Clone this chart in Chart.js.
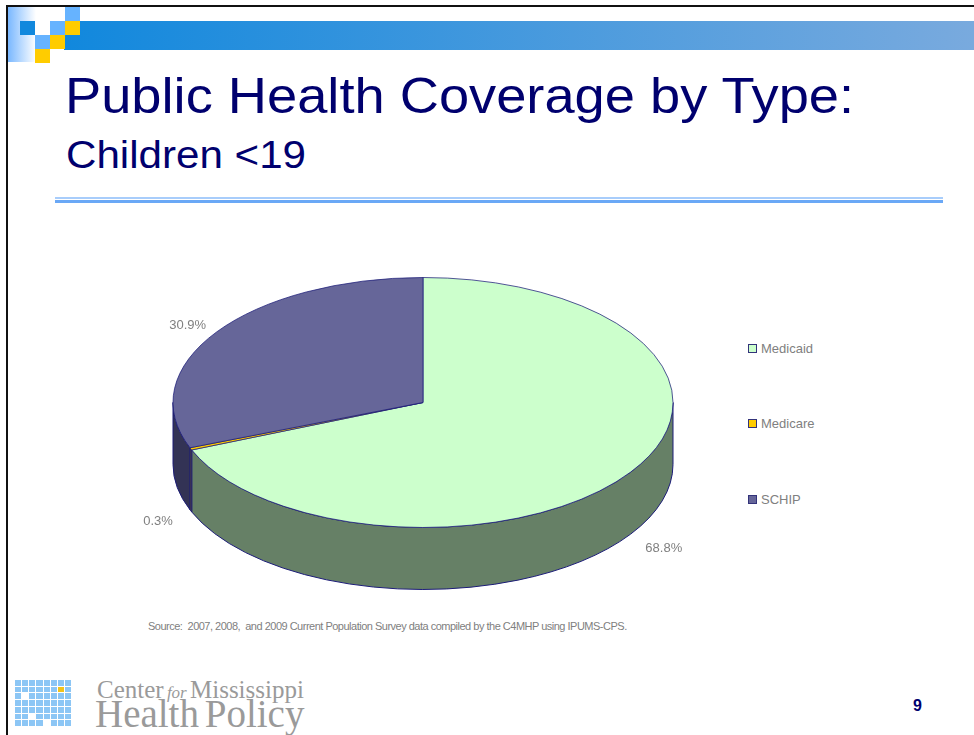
<!DOCTYPE html>
<html>
<head>
<meta charset="utf-8">
<script src="https://cdn.jsdelivr.net/npm/chart.js@4.4.1/dist/chart.umd.min.js"></script>
<style>
  html, body { margin: 0; padding: 0; background: #fff; }
  body { width: 974px; height: 735px; position: relative; overflow: hidden; font-family: "Liberation Sans", Arial, sans-serif; }
  .frame { position: absolute; left: 6px; top: 5px; width: 980px; height: 740px; border: 2px solid #111; box-sizing: border-box; }
  .bar { position: absolute; left: 64px; top: 21px; width: 910px; height: 29px; background: linear-gradient(to right, #1188dd, #79aade); }
  .fade { position: absolute; left: 8px; top: 7px; width: 28px; height: 55px; background: linear-gradient(to right, #7ab8ff, #ffffff); }
  .sq { position: absolute; width: 15px; height: 14px; }
  .t1 { position: absolute; left: 65px; top: 67px; font-size: 50px; color: #00006e; transform: scaleX(1.085); transform-origin: left; white-space: nowrap; }
  .t2 { position: absolute; left: 66px; top: 133px; font-size: 39px; color: #00006e; transform: scaleX(1.08); transform-origin: left; white-space: nowrap; }
  .rule1 { position: absolute; left: 55px; top: 197px; width: 888px; height: 2px; background: #a8cdfb; }
  .rule2 { position: absolute; left: 55px; top: 200px; width: 888px; height: 3px; background: #6aa8f6; }
  #chart { position: absolute; left: 0; top: 0; }
  .legend { position: absolute; left: 748px; font-size: 13px; color: #808080; white-space: nowrap; }
  .legend span.box { display: inline-block; width: 7px; height: 7px; border: 1px solid #33337a; margin-right: 4px; vertical-align: 0px; }
  .source { position: absolute; left: 148px; top: 620px; font-size: 11px; color: #808080; white-space: nowrap; letter-spacing: -0.5px; }
  .grid { position: absolute; left: 15px; top: 680px; width: 56px; height: 46px; display: grid; grid-template-columns: repeat(8, 1fr); grid-template-rows: repeat(7, 1fr); gap: 1px; background: #fff; }
  .grid div { background: #8cc6f5; }
  .grid div.w { background: #fff; }
  .grid div.y { background: #f2c21a; }
  .logo1 { position: absolute; left: 97px; top: 676px; font-family: "Liberation Serif", serif; font-size: 25px; color: #9a9a9a; white-space: nowrap; word-spacing: -3px; }
  .logo1 i { font-size: 17px; }
  .logo2 { position: absolute; left: 95px; top: 691px; font-family: "Liberation Serif", serif; font-size: 39px; color: #9a9a9a; white-space: nowrap; word-spacing: -4px; }
  .page { position: absolute; left: 913px; top: 697px; font-size: 16px; font-weight: bold; color: #00006e; }
</style>
</head>
<body>
<div class="frame"></div>
<div class="fade"></div>
<div class="bar"></div>
<div class="sq" style="left:65px;top:7px;background:#66b3ff"></div>
<div class="sq" style="left:20px;top:21px;background:#1188dd"></div>
<div class="sq" style="left:50px;top:21px;background:#66b3ff"></div>
<div class="sq" style="left:65px;top:21px;background:#ffcc00"></div>
<div class="sq" style="left:35px;top:35px;background:#66b3ff"></div>
<div class="sq" style="left:50px;top:35px;background:#ffcc00"></div>
<div class="sq" style="left:35px;top:49px;background:#ffcc00"></div>

<div class="t1">Public Health Coverage by Type:</div>
<div class="t2">Children &lt;19</div>
<div class="rule1"></div>
<div class="rule2"></div>

<div id="legend"></div>
<div class="source">Source:&nbsp; 2007, 2008,&nbsp; and 2009 Current Population Survey data compiled by the C4MHP using IPUMS-CPS.</div>

<div class="grid" id="logoGrid"></div>
<div class="logo1">Center <i>for</i> Mississippi</div>
<div class="logo2">Health Policy</div>
<div class="page">9</div>

<canvas id="chart" width="974" height="735"></canvas>

<script>
// data
const labels = ['Medicaid', 'Medicare', 'SCHIP'];
const shares = [68.8, 0.3, 30.9];
const topColors = ['#CCFFCC', '#FFCC00', '#666699'];
const sideColors = ['#668066', '#806600', '#333355'];

const tilt = 0.5;
const depth = 62;
const legendTops = [341, 416, 492];

// legend from the arrays
const legendEl = document.getElementById('legend');
labels.forEach((l, i) => {
    const d = document.createElement('div');
    d.className = 'legend';
    d.style.top = legendTops[i] + 'px';
    d.innerHTML = '<span class="box" style="background:' + topColors[i] + '"></span>' + l;
    legendEl.appendChild(d);
});

// logo squares
const grid = document.getElementById('logoGrid');
for (let r = 0; r < 7; r++) {
    for (let c = 0; c < 8; c++) {
        const cell = document.createElement('div');
        if (r === 1 && c === 6) cell.className = 'y';
        if ((r === 2 && c === 1) || (r === 5 && c === 2) || (r === 6 && c === 4)) cell.className = 'w';
        grid.appendChild(cell);
    }
}

// draws the pie as a tilted disc with a side wall
const pie3d = {
    id: 'pie3d',
    beforeDatasetsDraw(chart) {
        const ctx = chart.ctx;
        const arcs = chart.getDatasetMeta(0).data;
        const cx = arcs[0].x, cy = arcs[0].y, R = arcs[0].outerRadius;
        const ry = R * tilt;
        ctx.save();
        arcs.forEach((arc, i) => {
            const s = Math.max(arc.startAngle, 0);
            const e = Math.min(arc.endAngle, Math.PI);
            if (s >= e) return;
            ctx.beginPath();
            ctx.ellipse(cx, cy, R, ry, 0, s, e);
            ctx.ellipse(cx, cy + depth, R, ry, 0, e, s, true);
            ctx.closePath();
            ctx.fillStyle = sideColors[i];
            ctx.fill();
            ctx.lineWidth = 1;
            ctx.strokeStyle = '#1c1c78';
            ctx.stroke();
        });
        ctx.restore();
        ctx.save();
        ctx.translate(cx, cy);
        ctx.scale(1, tilt);
        ctx.translate(-cx, -cy);
    },
    afterDatasetsDraw(chart) {
        const ctx = chart.ctx;
        ctx.restore();
        const arcs = chart.getDatasetMeta(0).data;
        const cx = arcs[0].x, cy = arcs[0].y, R = arcs[0].outerRadius;
        ctx.save();
        ctx.font = '13px "Liberation Sans", Arial, sans-serif';
        ctx.fillStyle = '#808080';
        ctx.textAlign = 'center';
        ctx.textBaseline = 'middle';
        arcs.forEach((arc, i) => {
            const mid = (arc.startAngle + arc.endAngle) / 2;
            const x = cx + R * 1.15 * Math.cos(mid) + 2;
            let y = cy + R * tilt * 1.15 * Math.sin(mid) + 4;
            if (Math.sin(mid) > 0) y += depth;
            ctx.fillText(shares[i].toFixed(1) + '%', x, y);
        });
        ctx.restore();
    }
};

new Chart(document.getElementById('chart'), {
    type: 'pie',
    data: {
        labels: labels,
        datasets: [{
            data: shares,
            backgroundColor: topColors,
            borderColor: '#1c1c78',
            borderWidth: 1,
            clip: false
        }]
    },
    options: {
        responsive: false,
        animation: false,
        layout: { padding: { left: 172, right: 300, top: 152, bottom: 82 } },
        plugins: {
            legend: { display: false },
            tooltip: { enabled: false }
        }
    },
    plugins: [pie3d]
});
</script>
</body>
</html>
